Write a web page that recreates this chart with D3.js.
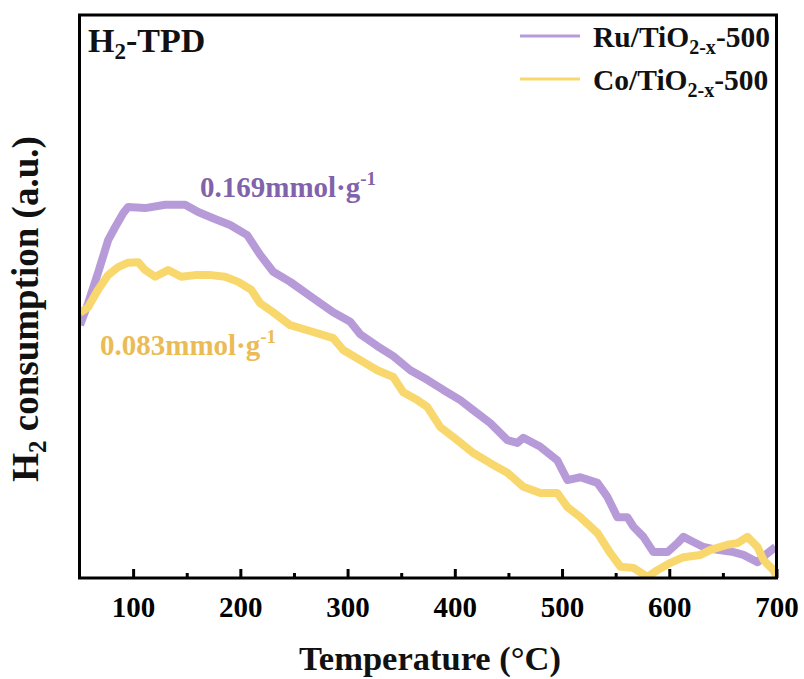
<!DOCTYPE html>
<html>
<head>
<meta charset="utf-8">
<script src="https://cdn.jsdelivr.net/npm/d3@7/dist/d3.min.js"></script>
<style>
  body { margin: 0; background: #fff; }
  svg { display: block; }
  text { font-family: "Liberation Serif", "Times New Roman", serif; font-weight: bold; }
</style>
</head>
<body>
<svg id="chart" width="804" height="679"></svg>
<script>
// ---- data (temperature °C, H2 consumption a.u.) ----
const ruT = [50.5,58,67.3,76.7,83.2,90.7,95.3,111.2,129.9,148.5,160.7,174.6,190.5,206.4,218.5,230.6,246.5,268,286.6,302.5,311.8,327.7,342.6,358.5,374.3,389.3,405.1,417.3,433.1,449,458.3,463.9,479.8,495.6,505,517.1,533,542.3,551.6,560.9,566.6,575.9,585.2,598.3,607.6,613.2,622.5,631.9,644.9,659.9,669.2,682.3,691.6,699.1];
const ruV = [44.9,48.8,54.2,60.0,62.3,64.8,65.9,65.7,66.3,66.3,65.0,63.9,62.7,60.9,57.4,54.4,52.6,49.7,47.2,45.5,43.3,41.2,39.4,36.9,35.2,33.4,31.6,29.8,27.5,24.5,24.0,24.9,23.3,20.9,17.4,17.9,16.9,14.4,10.8,10.8,9.1,7.3,4.6,4.6,6.2,7.3,6.4,5.5,5.0,4.6,4.1,2.8,4.4,5.5];
const coT = [50.5,58,67.3,76.7,86,95.3,104.7,111.2,120.5,132.7,144.8,157.9,172.8,185.8,198,210.1,218.5,230.6,246.5,268,286.6,295.9,311.8,327.7,342.6,351.9,365,374.3,386.5,402.3,417.3,433.1,449,463.9,479.8,495.6,505,517.1,533,545.1,554.5,566.6,579.6,589,601.1,613.2,629.1,638.4,654.3,663.6,672.9,682.3,687.9,697.2,700];
const coV = [47.1,48.1,51.2,53.8,55.2,56.0,56.1,54.7,53.5,54.7,53.5,53.8,53.8,53.5,52.6,51.2,48.8,47.2,44.9,43.7,42.6,40.5,38.7,36.9,35.7,33.0,31.6,30.4,26.8,24.5,22.2,20.4,18.7,16.2,15.1,15.1,12.6,10.8,8.0,4.4,2.0,1.8,0.2,1.4,2.7,3.7,4.1,5.0,5.9,6.2,7.3,5.5,3.2,1.4,0.2];
const majorTicks = [100,200,300,400,500,600,700];
const minorTicks = [150,250,350,450,550,650];
const seriesNames = ["Ru/TiO", "Co/TiO"];
const annotations = ["0.169mmol·g", "0.083mmol·g"];

const purple = "#b79bd8", yellow = "#f8d76c";
const purpleText = "#8063ab", yellowText = "#ebbb55";

const svg = d3.select("#chart");
const L = 79.5, R = 776.5, T = 15, B = 578;
const x = d3.scaleLinear().domain([50, 700]).range([L, R]);
const y = d3.scaleLinear().domain([0, 100]).range([B, T]);

svg.append("clipPath").attr("id", "clip")
  .append("rect").attr("x", L).attr("y", T).attr("width", R - L).attr("height", B - T);

const line = d3.line().x(d => x(d[0])).y(d => y(d[1])).curve(d3.curveLinear);
const ruData = ruT.map((t, i) => [t, ruV[i]]);
const coData = coT.map((t, i) => [t, coV[i]]);

const g = svg.append("g").attr("clip-path", "url(#clip)");
g.append("path").datum(ruData).attr("d", line)
  .attr("fill", "none").attr("stroke", purple).attr("stroke-width", 8).attr("stroke-linejoin", "round");
g.append("path").datum(coData).attr("d", line)
  .attr("fill", "none").attr("stroke", yellow).attr("stroke-width", 8).attr("stroke-linejoin", "round");

// axes
const ax = svg.append("g").attr("transform", `translate(0,${B})`)
  .call(d3.axisBottom(x).tickValues(majorTicks).tickSize(-9).tickPadding(18).tickFormat(d3.format("d")));
ax.select(".domain").remove();
ax.selectAll("line").attr("stroke", "#000").attr("stroke-width", 3);
ax.selectAll("text").attr("font-size", 29).attr("fill", "#000")
  .style("font-family", '"Liberation Serif", serif').style("font-weight", "bold");
const axm = svg.append("g").attr("transform", `translate(0,${B})`)
  .call(d3.axisBottom(x).tickValues(minorTicks).tickSize(-5).tickFormat(""));
axm.select(".domain").remove();
axm.selectAll("line").attr("stroke", "#000").attr("stroke-width", 3);

// frame
svg.append("rect").attr("x", L).attr("y", T).attr("width", R - L).attr("height", B - T)
  .attr("fill", "none").attr("stroke", "#000").attr("stroke-width", 3);

// title
const t1 = svg.append("text").attr("x", 88).attr("y", 52).attr("font-size", 34).attr("fill", "#111");
t1.append("tspan").text("H");
t1.append("tspan").attr("font-size", 23).attr("dy", 7).text("2");
t1.append("tspan").attr("dy", -7).text("-TPD");

// legend
const leg = [[36, purple, 0], [79, yellow, 1]];
leg.forEach(([ly, c, i]) => {
  svg.append("line").attr("x1", 520).attr("x2", 580).attr("y1", ly).attr("y2", ly)
    .attr("stroke", c).attr("stroke-width", 3);
  const tx = svg.append("text").attr("x", 593).attr("y", ly + 11).attr("font-size", 29.5).attr("fill", "#111");
  tx.append("tspan").text(seriesNames[i]);
  tx.append("tspan").attr("font-size", 20).attr("dy", 7).text("2-x");
  tx.append("tspan").attr("dy", -7).text("-500");
});

// annotations
const a1 = svg.append("text").attr("x", 200).attr("y", 197).attr("font-size", 29).attr("fill", purpleText);
a1.append("tspan").text(annotations[0]);
a1.append("tspan").attr("font-size", 19).attr("dy", -12).text("-1");
const a2 = svg.append("text").attr("x", 100).attr("y", 355).attr("font-size", 29).attr("fill", yellowText);
a2.append("tspan").text(annotations[1]);
a2.append("tspan").attr("font-size", 19).attr("dy", -12).text("-1");

// axis titles
svg.append("text").attr("x", 430).attr("y", 670).attr("text-anchor", "middle")
  .attr("font-size", 34.5).attr("fill", "#111").text("Temperature (°C)");
const yt = svg.append("text").attr("transform", "translate(38,309) rotate(-90)")
  .attr("text-anchor", "middle").attr("font-size", 37).attr("fill", "#111");
yt.append("tspan").text("H");
yt.append("tspan").attr("font-size", 25).attr("dy", 8).text("2");
yt.append("tspan").attr("dy", -8).text(" consumption (a.u.)");
</script>
</body>
</html>
